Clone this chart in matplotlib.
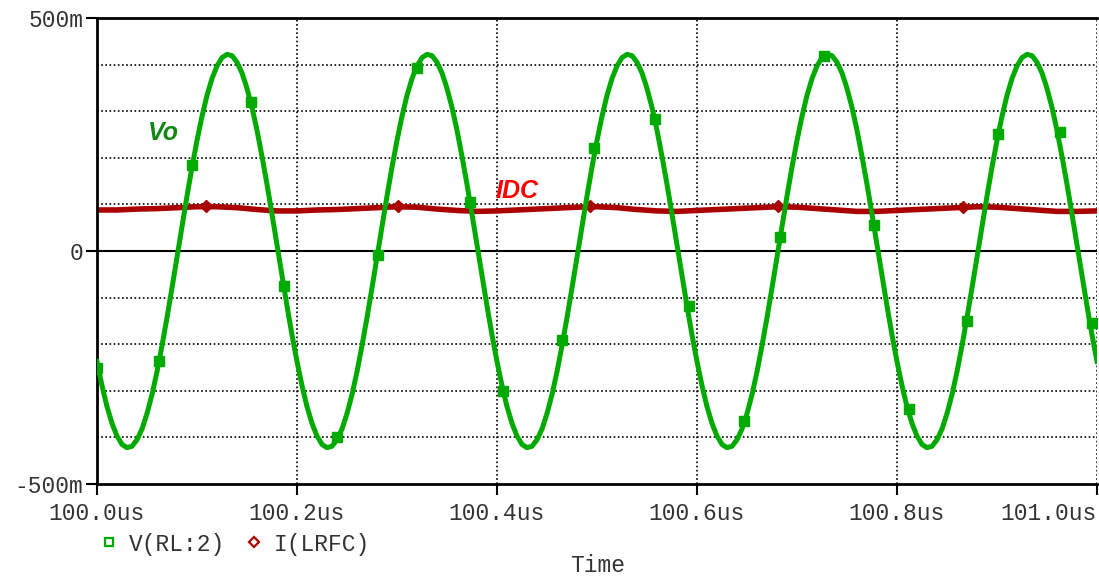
import numpy as np
import matplotlib
matplotlib.use('Agg')
import matplotlib.pyplot as plt
from matplotlib.lines import Line2D

# time axis in us, curve sampled every 5 ns
t_vo = np.linspace(100.0, 101.0, 201)
# V(RL:2) in mV
vo = [-237, -289, -334, -370, -397, -415, -422, -419, -405, -382, -349, -308, -259, -203, -143, -79, -13, 53, 118, 180,
      237, 289, 334, 370, 397, 415, 422, 419, 405, 382, 349, 308, 259, 203, 143, 79, 13, -53, -118, -180,
      -237, -289, -334, -370, -397, -415, -422, -419, -405, -382, -349, -308, -259, -203, -143, -79, -13, 53, 118, 180,
      237, 289, 334, 370, 397, 415, 422, 419, 405, 382, 349, 308, 259, 203, 143, 79, 13, -53, -118, -180,
      -237, -289, -334, -370, -397, -415, -422, -419, -405, -382, -349, -308, -259, -203, -143, -79, -13, 53, 118, 180,
      237, 289, 334, 370, 397, 415, 422, 419, 405, 382, 349, 308, 259, 203, 143, 79, 13, -53, -118, -180,
      -237, -289, -334, -370, -397, -415, -422, -419, -405, -382, -349, -308, -259, -203, -143, -79, -13, 53, 118, 180,
      237, 289, 334, 370, 397, 415, 422, 419, 405, 382, 349, 308, 259, 203, 143, 79, 13, -53, -118, -180,
      -237, -289, -334, -370, -397, -415, -422, -419, -405, -382, -349, -308, -259, -203, -143, -79, -13, 53, 118, 180,
      237, 289, 334, 370, 397, 415, 422, 419, 405, 382, 349, 308, 259, 203, 143, 79, 13, -53, -118, -180,
      -237]

# marker points on V(RL:2)
vo_mark_t = [100.000, 100.062, 100.095, 100.154, 100.187, 100.240, 100.281, 100.320, 100.373, 100.406, 100.465, 100.497,
             100.558, 100.592, 100.647, 100.683, 100.727, 100.777, 100.812, 100.870, 100.901, 100.963, 100.995]
vo_mark_v = [-250, -235, 185, 320, -76, -400, -8, 392, 105, -300, -190, 220,
             283, -118, -365, 30, 418, 55, -340, -150, 252, 255, -155]

# I(LRFC) in mA, every 20 ns
t_idc = np.linspace(100.0, 101.0, 51)
idc = [88, 88, 90, 91, 93, 95, 95, 93, 89, 86, 86, 88, 89, 91, 93, 95, 94, 90, 87, 85,
       86, 88, 90, 92, 94, 95, 93, 89, 86, 85, 87, 89, 91, 93, 95, 94, 91, 88, 85, 85,
       87, 89, 91, 93, 95, 94, 91, 88, 85, 85, 86]
idc_mark_t = [100.109, 100.301, 100.493, 100.681, 100.866]
idc_mark_v = [96, 96, 96, 96, 95]

x_ticks = [100.0, 100.2, 100.4, 100.6, 100.8, 101.0]
x_labels = ['100.0us', '100.2us', '100.4us', '100.6us', '100.8us', '101.0us']
y_ticks = [-500, 0, 500]
y_labels = ['-500m', '0', '500m']
y_grid = [-400, -300, -200, -100, 100, 200, 300, 400]

green = '#00aa00'
red = '#aa0000'
mono = 'Liberation Mono'
fs = 16.5

fig = plt.figure(figsize=(10.99, 5.78), dpi=100)
ax = fig.add_axes([97/1099, 1-484/578, 1000/1099, 466/578])

ax.plot(t_vo, vo, color=green, lw=3.6, solid_joinstyle='round', zorder=3)
ax.plot(vo_mark_t, vo_mark_v, ls='none', marker='s', ms=6.5, color=green, zorder=4)
ax.plot(t_idc, idc, color=red, lw=4.0, zorder=2)
ax.plot(idc_mark_t, idc_mark_v, ls='none', marker='D', ms=6, color=red, zorder=2)

ax.set_xlim(100.0, 101.0)
ax.set_ylim(-500, 500)

ax.set_xticks(x_ticks)
ax.set_xticklabels(x_labels, family=mono, fontsize=fs, color='#333333')
ax.get_xticklabels()[-1].set_ha('right')
ax.set_yticks(y_ticks)
ax.set_yticklabels(y_labels, family=mono, fontsize=fs, color='#333333')
ax.set_yticks(y_grid, minor=True)
ax.tick_params(axis='x', which='major', length=8, width=1.5, direction='out', pad=5)
ax.tick_params(axis='y', which='major', length=8, width=1.5, direction='out', pad=2)
ax.tick_params(axis='y', which='minor', length=0)

ax.grid(True, axis='x', which='major', color='black', ls=(0, (1, 1.5)), lw=1.2)
ax.grid(True, axis='y', which='minor', color='black', ls=(0, (1, 1.5)), lw=1.2)
ax.axhline(0, color='black', lw=1.5, zorder=1)

for s in ['left', 'bottom', 'top']:
    ax.spines[s].set_linewidth(2)
ax.spines['right'].set_visible(False)

ax.text(100.066, 253, 'Vo', color='#118811', fontsize=18, fontweight='bold', style='italic',
        family='Liberation Sans', ha='center', va='center')
ax.text(100.420, 128, 'IDC', color='#ff0000', fontsize=18, fontweight='bold', style='italic',
        family='Liberation Sans', ha='center', va='center')

handles = [Line2D([], [], ls='none', marker='s', ms=6, mfc='white', mec=green, mew=1.6),
           Line2D([], [], ls='none', marker='D', ms=5, mfc='white', mec=red, mew=1.6)]
fig.legend(handles, ['V(RL:2)', 'I(LRFC)'], loc='center left', bbox_to_anchor=(90/1099, 1-544/578),
           ncol=2, frameon=False, prop={'family': mono, 'size': fs}, handlelength=0.9,
           handletextpad=0.4, columnspacing=0.8, labelcolor='#333333', borderaxespad=0)

fig.text(598/1099, 1-566/578, 'Time', family=mono, fontsize=fs, color='#333333', ha='center', va='center')

fig.savefig('out.png', dpi=100)
